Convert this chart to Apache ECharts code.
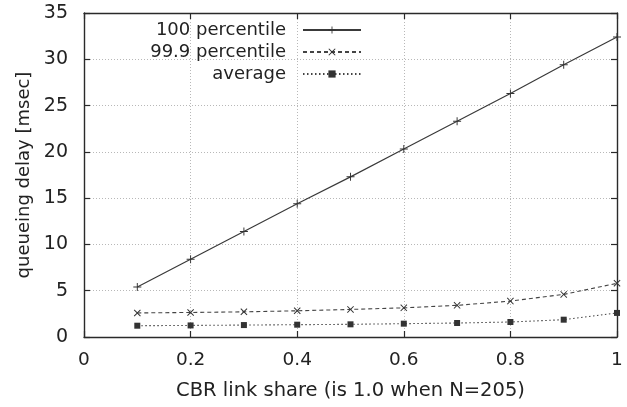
<!DOCTYPE html>
<html>
<head>
<meta charset="utf-8">
<script src="https://cdn.jsdelivr.net/npm/echarts@6/dist/echarts.min.js"></script>
<style>
  html, body { margin: 0; padding: 0; background: #fff; }
  #chart { width: 627px; height: 407px; }
</style>
</head>
<body>
<div id="chart"></div>
<script>
// CBR link share on the x axis, queueing delay in msec on the y axis
const linkShare = [0.1, 0.2, 0.3, 0.4, 0.5, 0.6, 0.7, 0.8, 0.9, 1.0];
const pct100 = [5.4, 8.4, 11.4, 14.4, 17.3, 20.3, 23.3, 26.3, 29.4, 32.4];
const pct999 = [2.6, 2.65, 2.72, 2.83, 2.98, 3.15, 3.42, 3.88, 4.6, 5.8];
const average = [1.22, 1.25, 1.29, 1.33, 1.37, 1.44, 1.51, 1.62, 1.87, 2.6];

const seriesNames = ['100 percentile', '99.9 percentile', 'average'];
const xTicks = [0, 0.2, 0.4, 0.6, 0.8, 1];
const yTicks = [0, 5, 10, 15, 20, 25, 30, 35];

const FONT = '"DejaVu Sans", Verdana, sans-serif';
const INK = '#222';
const FRAME = '#2a2a2a';

const plusPath = 'path://M4.4,0H5.6V4.4H10V5.6H5.6V10H4.4V5.6H0V4.4H4.4Z';
const crossPath = 'path://M1,0L5,4L9,0L10,1L6,5L10,9L9,10L5,6L1,10L0,9L4,5L0,1Z';
const boxPath = 'path://M0,0H10V10H0Z';

function pairs(ys) {
  return linkShare.map((x, i) => [x, ys[i]]);
}

function fmt(v) {
  return String(Math.round(v * 10) / 10);
}

const chart = echarts.init(document.getElementById('chart'), null, { renderer: 'canvas' });

const tickStyle = { show: true, inside: true, length: 6, lineStyle: { color: FRAME, width: 1.2 } };
const lineFrame = { show: true, onZero: false, lineStyle: { color: FRAME, width: 1.4 } };
const gridDots = { show: true, lineStyle: { color: '#b8b8b8', type: [1, 2], width: 1 } };

chart.setOption({
  animation: false,
  backgroundColor: '#fff',
  textStyle: { fontFamily: FONT, color: INK },
  grid: { left: 84, right: 10, top: 13, bottom: 70, containLabel: false },
  legend: {
    orient: 'vertical',
    align: 'right',
    right: 260,
    top: 16,
    itemWidth: 58,
    itemHeight: 9,
    itemGap: 4,
    data: seriesNames,
    textStyle: { fontSize: 18, color: INK, fontFamily: FONT, padding: [0, 12, 0, 0] }
  },
  xAxis: [
    {
      type: 'value',
      min: 0, max: 1, interval: 0.2,
      position: 'bottom',
      name: 'CBR link share (is 1.0 when N=205)',
      nameLocation: 'middle',
      nameGap: 44,
      nameTextStyle: { fontSize: 19.5, color: INK, fontFamily: FONT },
      axisLine: lineFrame,
      axisTick: tickStyle,
      axisLabel: {
        fontSize: 18.5, color: INK, fontFamily: FONT, margin: 14,
        formatter: v => xTicks.includes(Math.round(v * 10) / 10) ? fmt(v) : ''
      },
      splitLine: gridDots
    },
    {
      type: 'value',
      min: 0, max: 1, interval: 0.2,
      position: 'top',
      axisLine: lineFrame,
      axisTick: tickStyle,
      axisLabel: { show: false },
      splitLine: { show: false }
    }
  ],
  yAxis: [
    {
      type: 'value',
      min: 0, max: 35, interval: 5,
      position: 'left',
      name: 'queueing delay [msec]',
      nameLocation: 'middle',
      nameGap: 49,
      nameTextStyle: { fontSize: 18, color: INK, fontFamily: FONT },
      axisLine: lineFrame,
      axisTick: tickStyle,
      axisLabel: {
        fontSize: 19, color: INK, fontFamily: FONT, margin: 16,
        formatter: v => yTicks.includes(v) ? String(v) : ''
      },
      splitLine: gridDots
    },
    {
      type: 'value',
      min: 0, max: 35, interval: 5,
      position: 'right',
      axisLine: lineFrame,
      axisTick: tickStyle,
      axisLabel: { show: false },
      splitLine: { show: false }
    }
  ],
  series: [
    {
      name: seriesNames[0],
      type: 'line',
      data: pairs(pct100),
      symbol: plusPath,
      symbolSize: 8,
      showAllSymbol: true,
      itemStyle: { color: '#333' },
      lineStyle: { color: '#3a3a3a', width: 1.2, type: 'solid' },
      z: 3
    },
    {
      name: seriesNames[1],
      type: 'line',
      data: pairs(pct999),
      symbol: crossPath,
      symbolSize: 7,
      showAllSymbol: true,
      itemStyle: { color: '#333' },
      lineStyle: { color: '#444', width: 1.1, type: [4, 3] },
      z: 3
    },
    {
      name: seriesNames[2],
      type: 'line',
      data: pairs(average),
      symbol: boxPath,
      symbolSize: 6,
      showAllSymbol: true,
      itemStyle: { color: '#333' },
      lineStyle: { color: '#444', width: 1.1, type: [1.5, 2.5] },
      z: 3
    }
  ]
});
</script>
</body>
</html>
